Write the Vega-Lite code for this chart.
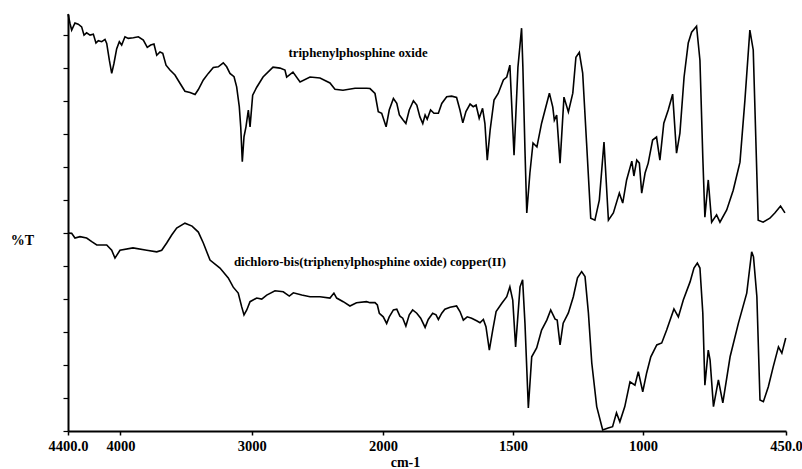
{
  "$schema": "https://vega.github.io/schema/vega-lite/v6.json",
  "width": 718,
  "height": 417,
  "autosize": "none",
  "padding": {"left": 68, "top": 14, "right": 16, "bottom": 38},
  "background": "white",
  "config": {"view": {"stroke": null}},
  "datasets": {
    "spectra": [
      {"s":"u","w":4400,"t":126.4},{"s":"u","w":4398,"t":126.1},{"s":"u","w":4385,"t":123.6},{"s":"u","w":4372,"t":121.5},{"s":"u","w":4347,"t":123.7},{"s":"u","w":4322,"t":123.3},{"s":"u","w":4296,"t":122.5},{"s":"u","w":4278,"t":120.0},{"s":"u","w":4258,"t":120.7},{"s":"u","w":4232,"t":120.0},{"s":"u","w":4207,"t":120.3},{"s":"u","w":4187,"t":117.6},{"s":"u","w":4169,"t":118.3},{"s":"u","w":4143,"t":118.0},{"s":"u","w":4118,"t":118.7},{"s":"u","w":4105,"t":117.5},{"s":"u","w":4085,"t":112.4},{"s":"u","w":4067,"t":108.4},{"s":"u","w":4050,"t":111.4},{"s":"u","w":4029,"t":115.9},{"s":"u","w":4009,"t":118.0},{"s":"u","w":3991,"t":117.0},{"s":"u","w":3966,"t":119.5},{"s":"u","w":3941,"t":119.0},{"s":"u","w":3902,"t":119.2},{"s":"u","w":3864,"t":119.5},{"s":"u","w":3826,"t":118.5},{"s":"u","w":3796,"t":116.3},{"s":"u","w":3770,"t":117.0},{"s":"u","w":3745,"t":117.3},{"s":"u","w":3724,"t":113.9},{"s":"u","w":3699,"t":114.9},{"s":"u","w":3678,"t":114.5},{"s":"u","w":3653,"t":110.9},{"s":"u","w":3623,"t":109.4},{"s":"u","w":3585,"t":107.9},{"s":"u","w":3547,"t":105.4},{"s":"u","w":3509,"t":103.0},{"s":"u","w":3470,"t":102.6},{"s":"u","w":3432,"t":102.0},{"s":"u","w":3407,"t":103.5},{"s":"u","w":3369,"t":106.4},{"s":"u","w":3331,"t":108.4},{"s":"u","w":3293,"t":110.2},{"s":"u","w":3255,"t":110.4},{"s":"u","w":3217,"t":111.6},{"s":"u","w":3191,"t":110.4},{"s":"u","w":3166,"t":108.4},{"s":"u","w":3135,"t":107.4},{"s":"u","w":3115,"t":104.3},{"s":"u","w":3095,"t":98.3},{"s":"u","w":3084,"t":92.2},{"s":"u","w":3072,"t":81.6},{"s":"u","w":3059,"t":89.2},{"s":"u","w":3044,"t":92.2},{"s":"u","w":3026,"t":97.3},{"s":"u","w":3013,"t":92.2},{"s":"u","w":2993,"t":101.8},{"s":"u","w":2962,"t":104.2},{"s":"u","w":2914,"t":107.3},{"s":"u","w":2838,"t":110.3},{"s":"u","w":2785,"t":110.0},{"s":"u","w":2747,"t":109.4},{"s":"u","w":2734,"t":107.3},{"s":"u","w":2686,"t":108.8},{"s":"u","w":2632,"t":105.8},{"s":"u","w":2556,"t":107.3},{"s":"u","w":2480,"t":107.0},{"s":"u","w":2404,"t":105.5},{"s":"u","w":2366,"t":103.6},{"s":"u","w":2305,"t":103.3},{"s":"u","w":2213,"t":103.9},{"s":"u","w":2124,"t":103.9},{"s":"u","w":2099,"t":103.8},{"s":"u","w":2061,"t":102.3},{"s":"u","w":2036,"t":96.8},{"s":"u","w":2010,"t":96.3},{"s":"u","w":1988,"t":92.2},{"s":"u","w":1976,"t":97.3},{"s":"u","w":1960,"t":100.8},{"s":"u","w":1947,"t":99.3},{"s":"u","w":1937,"t":95.8},{"s":"u","w":1922,"t":94.2},{"s":"u","w":1912,"t":93.2},{"s":"u","w":1899,"t":97.3},{"s":"u","w":1883,"t":100.1},{"s":"u","w":1870,"t":98.8},{"s":"u","w":1858,"t":95.2},{"s":"u","w":1847,"t":93.2},{"s":"u","w":1838,"t":95.8},{"s":"u","w":1830,"t":94.5},{"s":"u","w":1817,"t":97.3},{"s":"u","w":1804,"t":96.3},{"s":"u","w":1787,"t":96.3},{"s":"u","w":1774,"t":99.3},{"s":"u","w":1755,"t":101.3},{"s":"u","w":1736,"t":101.5},{"s":"u","w":1717,"t":101.1},{"s":"u","w":1704,"t":97.3},{"s":"u","w":1693,"t":93.4},{"s":"u","w":1681,"t":96.8},{"s":"u","w":1665,"t":99.1},{"s":"u","w":1653,"t":98.3},{"s":"u","w":1642,"t":98.8},{"s":"u","w":1630,"t":94.8},{"s":"u","w":1617,"t":97.8},{"s":"u","w":1608,"t":93.2},{"s":"u","w":1599,"t":82.1},{"s":"u","w":1588,"t":91.2},{"s":"u","w":1573,"t":100.3},{"s":"u","w":1557,"t":102.3},{"s":"u","w":1537,"t":106.4},{"s":"u","w":1524,"t":107.3},{"s":"u","w":1512,"t":110.9},{"s":"u","w":1496,"t":83.6},{"s":"u","w":1481,"t":110.3},{"s":"u","w":1467,"t":122.1},{"s":"u","w":1462,"t":110.3},{"s":"u","w":1454,"t":85.2},{"s":"u","w":1447,"t":66.1},{"s":"u","w":1435,"t":78.2},{"s":"u","w":1423,"t":87.3},{"s":"u","w":1408,"t":86.1},{"s":"u","w":1390,"t":93.3},{"s":"u","w":1360,"t":102.4},{"s":"u","w":1347,"t":98.2},{"s":"u","w":1341,"t":94.2},{"s":"u","w":1332,"t":95.8},{"s":"u","w":1319,"t":81.2},{"s":"u","w":1304,"t":101.2},{"s":"u","w":1287,"t":96.7},{"s":"u","w":1270,"t":102.4},{"s":"u","w":1258,"t":113.3},{"s":"u","w":1245,"t":114.8},{"s":"u","w":1232,"t":108.5},{"s":"u","w":1217,"t":87.3},{"s":"u","w":1201,"t":64.5},{"s":"u","w":1185,"t":63.9},{"s":"u","w":1168,"t":70.0},{"s":"u","w":1150,"t":87.6},{"s":"u","w":1133,"t":63.9},{"s":"u","w":1114,"t":66.1},{"s":"u","w":1091,"t":72.1},{"s":"u","w":1078,"t":69.1},{"s":"u","w":1063,"t":76.1},{"s":"u","w":1043,"t":81.8},{"s":"u","w":1035,"t":77.3},{"s":"u","w":1024,"t":82.1},{"s":"u","w":1014,"t":81.2},{"s":"u","w":1005,"t":72.1},{"s":"u","w":992,"t":78.2},{"s":"u","w":980,"t":81.2},{"s":"u","w":963,"t":88.2},{"s":"u","w":948,"t":89.1},{"s":"u","w":935,"t":82.1},{"s":"u","w":920,"t":93.3},{"s":"u","w":903,"t":97.3},{"s":"u","w":886,"t":102.1},{"s":"u","w":871,"t":84.2},{"s":"u","w":858,"t":90.3},{"s":"u","w":842,"t":107.3},{"s":"u","w":826,"t":117.6},{"s":"u","w":813,"t":120.9},{"s":"u","w":794,"t":122.7},{"s":"u","w":781,"t":112.4},{"s":"u","w":770,"t":83.0},{"s":"u","w":762,"t":64.8},{"s":"u","w":749,"t":76.1},{"s":"u","w":736,"t":63.3},{"s":"u","w":717,"t":65.5},{"s":"u","w":704,"t":63.3},{"s":"u","w":678,"t":67.0},{"s":"u","w":653,"t":73.0},{"s":"u","w":627,"t":81.5},{"s":"u","w":608,"t":100.3},{"s":"u","w":589,"t":121.5},{"s":"u","w":576,"t":115.5},{"s":"u","w":557,"t":63.9},{"s":"u","w":538,"t":63.3},{"s":"u","w":512,"t":64.5},{"s":"u","w":493,"t":66.1},{"s":"u","w":471,"t":68.2},{"s":"u","w":454,"t":66.1},
      {"s":"l","w":4400,"t":60.0},{"s":"l","w":4372,"t":59.9},{"s":"l","w":4347,"t":58.5},{"s":"l","w":4309,"t":58.9},{"s":"l","w":4258,"t":58.5},{"s":"l","w":4219,"t":57.4},{"s":"l","w":4181,"t":56.4},{"s":"l","w":4105,"t":56.4},{"s":"l","w":4067,"t":54.8},{"s":"l","w":4042,"t":52.4},{"s":"l","w":4004,"t":54.8},{"s":"l","w":3905,"t":55.5},{"s":"l","w":3800,"t":54.8},{"s":"l","w":3724,"t":54.3},{"s":"l","w":3686,"t":54.8},{"s":"l","w":3648,"t":57.0},{"s":"l","w":3610,"t":59.4},{"s":"l","w":3572,"t":61.5},{"s":"l","w":3509,"t":63.0},{"s":"l","w":3455,"t":62.1},{"s":"l","w":3407,"t":60.3},{"s":"l","w":3369,"t":57.0},{"s":"l","w":3318,"t":51.8},{"s":"l","w":3242,"t":49.4},{"s":"l","w":3179,"t":46.4},{"s":"l","w":3141,"t":43.6},{"s":"l","w":3103,"t":41.8},{"s":"l","w":3077,"t":37.7},{"s":"l","w":3059,"t":35.2},{"s":"l","w":3038,"t":36.7},{"s":"l","w":3013,"t":39.2},{"s":"l","w":2962,"t":40.3},{"s":"l","w":2924,"t":40.0},{"s":"l","w":2886,"t":41.2},{"s":"l","w":2823,"t":42.5},{"s":"l","w":2760,"t":42.2},{"s":"l","w":2714,"t":40.9},{"s":"l","w":2683,"t":41.9},{"s":"l","w":2619,"t":41.2},{"s":"l","w":2556,"t":40.7},{"s":"l","w":2480,"t":40.7},{"s":"l","w":2404,"t":40.3},{"s":"l","w":2374,"t":41.8},{"s":"l","w":2353,"t":40.3},{"s":"l","w":2303,"t":39.2},{"s":"l","w":2252,"t":37.9},{"s":"l","w":2202,"t":38.9},{"s":"l","w":2126,"t":39.2},{"s":"l","w":2099,"t":38.9},{"s":"l","w":2061,"t":38.9},{"s":"l","w":2043,"t":38.2},{"s":"l","w":2028,"t":35.7},{"s":"l","w":1999,"t":34.6},{"s":"l","w":1986,"t":32.6},{"s":"l","w":1976,"t":34.6},{"s":"l","w":1960,"t":36.7},{"s":"l","w":1947,"t":36.9},{"s":"l","w":1935,"t":34.8},{"s":"l","w":1924,"t":34.2},{"s":"l","w":1912,"t":31.8},{"s":"l","w":1899,"t":35.2},{"s":"l","w":1886,"t":36.7},{"s":"l","w":1870,"t":35.7},{"s":"l","w":1855,"t":34.2},{"s":"l","w":1838,"t":31.4},{"s":"l","w":1826,"t":33.8},{"s":"l","w":1809,"t":35.7},{"s":"l","w":1796,"t":35.2},{"s":"l","w":1787,"t":33.8},{"s":"l","w":1774,"t":35.7},{"s":"l","w":1762,"t":36.9},{"s":"l","w":1742,"t":37.5},{"s":"l","w":1717,"t":37.9},{"s":"l","w":1704,"t":36.2},{"s":"l","w":1691,"t":33.6},{"s":"l","w":1676,"t":34.6},{"s":"l","w":1659,"t":34.2},{"s":"l","w":1640,"t":33.4},{"s":"l","w":1627,"t":32.8},{"s":"l","w":1614,"t":33.8},{"s":"l","w":1604,"t":31.6},{"s":"l","w":1591,"t":24.5},{"s":"l","w":1578,"t":30.6},{"s":"l","w":1565,"t":36.2},{"s":"l","w":1543,"t":38.7},{"s":"l","w":1524,"t":40.7},{"s":"l","w":1512,"t":43.7},{"s":"l","w":1501,"t":39.7},{"s":"l","w":1490,"t":25.5},{"s":"l","w":1473,"t":43.7},{"s":"l","w":1463,"t":45.8},{"s":"l","w":1454,"t":32.7},{"s":"l","w":1441,"t":7.0},{"s":"l","w":1428,"t":22.5},{"s":"l","w":1409,"t":25.2},{"s":"l","w":1390,"t":30.6},{"s":"l","w":1370,"t":33.6},{"s":"l","w":1355,"t":36.7},{"s":"l","w":1338,"t":33.9},{"s":"l","w":1330,"t":33.6},{"s":"l","w":1319,"t":26.1},{"s":"l","w":1307,"t":32.7},{"s":"l","w":1287,"t":35.8},{"s":"l","w":1268,"t":40.7},{"s":"l","w":1252,"t":46.4},{"s":"l","w":1236,"t":48.3},{"s":"l","w":1223,"t":46.8},{"s":"l","w":1210,"t":35.8},{"s":"l","w":1197,"t":20.6},{"s":"l","w":1178,"t":7.4},{"s":"l","w":1155,"t":0.3},{"s":"l","w":1134,"t":0.9},{"s":"l","w":1117,"t":1.3},{"s":"l","w":1102,"t":5.5},{"s":"l","w":1089,"t":2.8},{"s":"l","w":1070,"t":7.4},{"s":"l","w":1050,"t":14.9},{"s":"l","w":1031,"t":13.9},{"s":"l","w":1018,"t":18.0},{"s":"l","w":1001,"t":11.9},{"s":"l","w":986,"t":17.6},{"s":"l","w":970,"t":22.5},{"s":"l","w":947,"t":26.1},{"s":"l","w":928,"t":26.7},{"s":"l","w":909,"t":30.6},{"s":"l","w":881,"t":37.0},{"s":"l","w":864,"t":34.6},{"s":"l","w":845,"t":39.7},{"s":"l","w":819,"t":45.2},{"s":"l","w":804,"t":49.4},{"s":"l","w":791,"t":50.9},{"s":"l","w":781,"t":49.4},{"s":"l","w":770,"t":35.8},{"s":"l","w":762,"t":13.9},{"s":"l","w":749,"t":24.5},{"s":"l","w":742,"t":21.5},{"s":"l","w":729,"t":7.4},{"s":"l","w":710,"t":15.5},{"s":"l","w":693,"t":8.5},{"s":"l","w":665,"t":22.5},{"s":"l","w":633,"t":32.7},{"s":"l","w":601,"t":41.8},{"s":"l","w":582,"t":54.3},{"s":"l","w":575,"t":52.8},{"s":"l","w":562,"t":40.7},{"s":"l","w":550,"t":9.4},{"s":"l","w":537,"t":8.9},{"s":"l","w":518,"t":13.4},{"s":"l","w":499,"t":19.5},{"s":"l","w":479,"t":25.5},{"s":"l","w":466,"t":23.6},{"s":"l","w":451,"t":28.2}
    ],
    "labels": [
      {"label": "triphenylphosphine oxide", "w": 2190, "t": 114.5},
      {"label": "dichloro-bis(triphenylphosphine oxide) copper(II)", "w": 2099, "t": 51.2}
    ]
  },
  "encoding": {
    "x": {
      "field": "w", "type": "quantitative",
      "scale": {"domain": [4400, 2000, 450], "range": [0, 315, 718], "zero": false, "nice": false},
      "axis": {
        "values": [4400, 4000, 3000, 2000, 1500, 1000, 450],
        "labelExpr": "datum.value == 4400 ? '4400.0' : (datum.value == 450 ? '450.0' : format(datum.value, 'd'))",
        "labelFont": "Liberation Serif", "labelFontWeight": "bold", "labelFontSize": 14.5, "labelColor": "black",
        "labelPadding": 4, "labelFlush": false, "labelOverlap": false,
        "domainColor": "black", "domainWidth": 2, "tickColor": "black", "tickSize": 4, "tickWidth": 1.5,
        "grid": false,
        "title": "cm-1", "titleFont": "Liberation Serif", "titleFontWeight": "bold", "titleFontSize": 14,
        "titleColor": "black", "titleX": 337, "titleY": 31, "titleBaseline": "middle", "titleAlign": "center"
      }
    },
    "y": {
      "field": "t", "type": "quantitative",
      "scale": {"domain": [0, 126.4], "zero": false, "nice": false},
      "axis": {
        "values": [0, 10, 20, 30, 40, 50, 60, 70, 80, 90, 100, 110, 120],
        "labels": false, "labelOverlap": false, "grid": false,
        "domainColor": "black", "domainWidth": 2, "tickColor": "black", "tickSize": 5, "tickWidth": 1.2,
        "title": "%T", "titleAngle": 0, "titleFont": "Liberation Serif", "titleFontWeight": "bold",
        "titleFontSize": 14, "titleColor": "black", "titleX": -46, "titleY": 226,
        "titleAlign": "center", "titleBaseline": "middle"
      }
    }
  },
  "layer": [
    {
      "data": {"name": "spectra"},
      "mark": {"type": "line", "color": "black", "strokeWidth": 1.6, "interpolate": "linear"},
      "encoding": {
        "detail": {"field": "s", "type": "nominal"}
      }
    },
    {
      "data": {"name": "labels"},
      "mark": {"type": "text", "font": "Liberation Serif", "fontWeight": "bold", "fontSize": 12.8, "color": "black", "align": "center", "baseline": "middle"},
      "encoding": {
        "text": {"field": "label", "type": "nominal"}
      }
    }
  ]
}
